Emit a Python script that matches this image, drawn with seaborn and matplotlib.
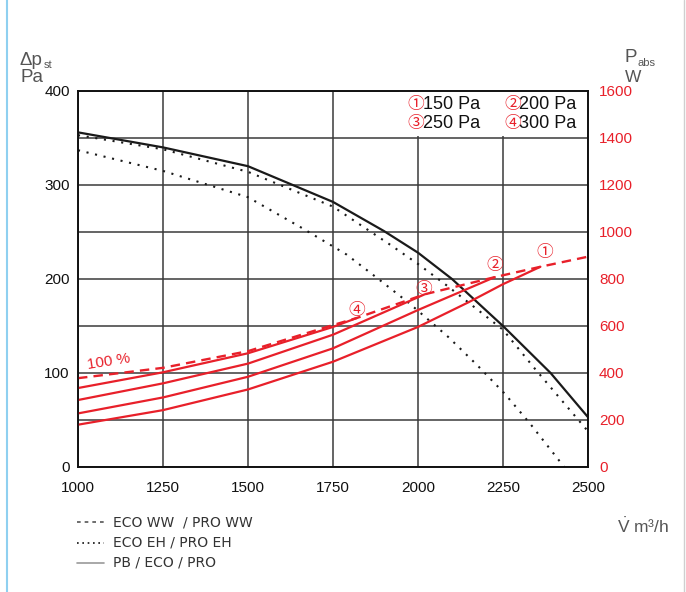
import matplotlib
matplotlib.use("Agg")
import matplotlib.pyplot as plt
from matplotlib.lines import Line2D
from matplotlib.patches import Rectangle
import seaborn as sns

# Static pressure curves, Pa over air flow in m³/h
flow_pb = [1000, 1250, 1500, 1750, 1900, 2000, 2100, 2250, 2390, 2500]
dp_pb = [356, 340, 320, 282, 251, 228, 200, 150, 100, 53]

flow_eh_hi = [1000, 1250, 1500, 1750, 1920, 2000, 2085, 2180, 2250, 2345, 2420, 2500]
dp_eh_hi = [353, 338, 314, 277, 236, 216, 193, 166, 146, 104, 72, 38]

flow_eh_lo = [1000, 1250, 1500, 1660, 1790, 1880, 1975, 2090, 2175, 2255, 2330, 2430]
dp_eh_lo = [337, 315, 287, 254, 226, 201, 174, 138, 108, 78, 46, 0]

# Power input, W over air flow in m³/h
flow_full = [1000, 1250, 1500, 1750, 1820, 2020, 2226, 2360, 2500]
power_full = [378, 422, 493, 604, 634, 735, 808, 852, 895]

flow_300 = [1000, 1250, 1500, 1750, 1820]
power_300 = [336, 403, 484, 596, 634]

flow_250 = [1000, 1250, 1500, 1750, 2020]
power_250 = [285, 356, 440, 563, 735]

flow_200 = [1000, 1250, 1500, 1750, 2000, 2226]
power_200 = [228, 296, 384, 505, 668, 808]

flow_150 = [1000, 1250, 1500, 1750, 2000, 2150, 2250, 2360]
power_150 = [180, 242, 330, 448, 596, 702, 778, 852]

# Circled markers along the 100 % power line
marker_labels = ["①", "②", "③", "④"]
marker_flow = [2374, 2226, 2018, 1821]
marker_dp = [228, 214, 189, 166]

key_labels = ["150 Pa", "200 Pa", "250 Pa", "300 Pa"]

x_ticks = [1000, 1250, 1500, 1750, 2000, 2250, 2500]
dp_ticks = [0, 100, 200, 300, 400]
power_ticks = [0, 200, 400, 600, 800, 1000, 1200, 1400, 1600]

RED = "#E8202A"
GRID = "#3a3a3a"
GREY = "#555555"
SANS = ["Liberation Sans", "DejaVu Sans"]
CIRC = ["Noto Sans CJK JP", "DejaVu Sans"]

sns.set_style("white")
plt.rcParams["font.family"] = SANS
plt.rcParams["mathtext.fontset"] = "custom"
plt.rcParams["mathtext.rm"] = "Liberation Sans"
plt.rcParams["mathtext.it"] = "Liberation Sans:italic"

W, H = 686, 592
fig = plt.figure(figsize=(W / 100, H / 100), dpi=100)
ax = fig.add_axes([78 / W, 1 - 467 / H, 510 / W, 376 / H])
ax2 = ax.twinx()

# Pressure curves (left axis)
sns.lineplot(x=flow_pb, y=dp_pb, ax=ax, color="#1a1a1a", lw=1.6, sort=False, estimator=None)
sns.lineplot(x=flow_eh_hi, y=dp_eh_hi, ax=ax, color="#1a1a1a", lw=1.5,
             ls=(0, (1, 3.2)), sort=False, estimator=None)
sns.lineplot(x=flow_eh_lo, y=dp_eh_lo, ax=ax, color="#1a1a1a", lw=1.5,
             ls=(0, (1, 3.2)), sort=False, estimator=None)

# Power curves (right axis)
sns.lineplot(x=flow_full, y=power_full, ax=ax2, color=RED, lw=1.7,
             ls=(0, (4, 2.6)), sort=False, estimator=None)
for fx, py in [(flow_300, power_300), (flow_250, power_250),
               (flow_200, power_200), (flow_150, power_150)]:
    sns.lineplot(x=fx, y=py, ax=ax2, color=RED, lw=1.6, sort=False, estimator=None)

ax.set_xlim(1000, 2500)
ax.set_ylim(0, 400)
ax2.set_ylim(0, 1600)
ax.set_xticks(x_ticks)
ax.set_yticks(dp_ticks)
ax.set_yticks(list(range(0, 401, 50)), minor=True)
ax2.set_yticks(power_ticks)
ax.set_axisbelow(True)
ax.grid(which="both", color=GRID, lw=1.1)
ax2.grid(False)
ax.set_xlabel("")
ax.set_ylabel("")
ax2.set_ylabel("")

ax.tick_params(axis="both", which="both", length=0, labelsize=11, colors="#111111")
ax.tick_params(axis="x", pad=10)
ax.tick_params(axis="y", pad=6)
ax2.tick_params(axis="y", length=0, labelsize=11, labelcolor=RED, pad=8)
for a in (ax, ax2):
    for s in a.spines.values():
        s.set_color("#111111")
        s.set_linewidth(1.2)

# Key box in the upper right corner
ax.add_patch(Rectangle((1945, 352), 555, 47.5, facecolor="white", edgecolor="none", zorder=1))
key_x = [1970, 2253, 1970, 2253]
key_y = [386, 386, 365, 365]
for lab, txt, kx, ky in zip(["①", "②", "③", "④"], key_labels, key_x, key_y):
    ax.text(kx, ky, lab, color=RED, fontsize=12, family=CIRC, va="center", ha="left", zorder=5)
    ax.text(kx + 45, ky, txt, color="#111111", fontsize=13, va="center", ha="left", zorder=5)

for lab, mx, my in zip(marker_labels, marker_flow, marker_dp):
    ax.text(mx, my, lab, color=RED, fontsize=12, family=CIRC, va="center", ha="center", zorder=5)

ax.text(1091, 112, "100 %", color=RED, fontsize=11, rotation=9, ha="center", va="center", zorder=5)

# Axis titles
fig.text(20 / W, 1 - 65 / H, "Δp", fontsize=13.5, color=GREY, va="baseline")
fig.text(44 / W, 1 - 68 / H, "st", fontsize=8, color=GREY, va="baseline")
fig.text(20 / W, 1 - 82 / H, "Pa", fontsize=13.5, color=GREY, va="baseline")
fig.text(624 / W, 1 - 62 / H, "P", fontsize=13.5, color=GREY, va="baseline")
fig.text(638 / W, 1 - 66 / H, "abs", fontsize=8, color=GREY, va="baseline")
fig.text(625 / W, 1 - 82 / H, "W", fontsize=12.5, color=GREY, va="baseline")
fig.text(617 / W, 1 - 533 / H, r"$\dot{\mathrm{V}}$ m³/h", fontsize=12.5, color=GREY, va="baseline")

# Line style key below the chart
rows = [(522, (0, (2.2, 2.4)), GREY, "ECO WW  / PRO WW"),
        (543, (0, (1, 2.2)), "#111111", "ECO EH / PRO EH"),
        (563, "-", "#9a9a9a", "PB / ECO / PRO")]
for y, ls, col, txt in rows:
    fig.add_artist(Line2D([77 / W, 104 / W], [1 - y / H, 1 - y / H], color=col, lw=1.2, ls=ls))
    fig.text(113 / W, 1 - y / H, txt, fontsize=10, color="#333333", va="center",
             family=["DejaVu Sans"])

# Page edge rules
fig.add_artist(Line2D([7 / W, 7 / W], [0, 1], color="#8fd0f0", lw=1.5))
fig.add_artist(Line2D([684 / W, 684 / W], [0, 1], color="#cfcfcf", lw=1.0))

fig.savefig("out.png", dpi=100)
